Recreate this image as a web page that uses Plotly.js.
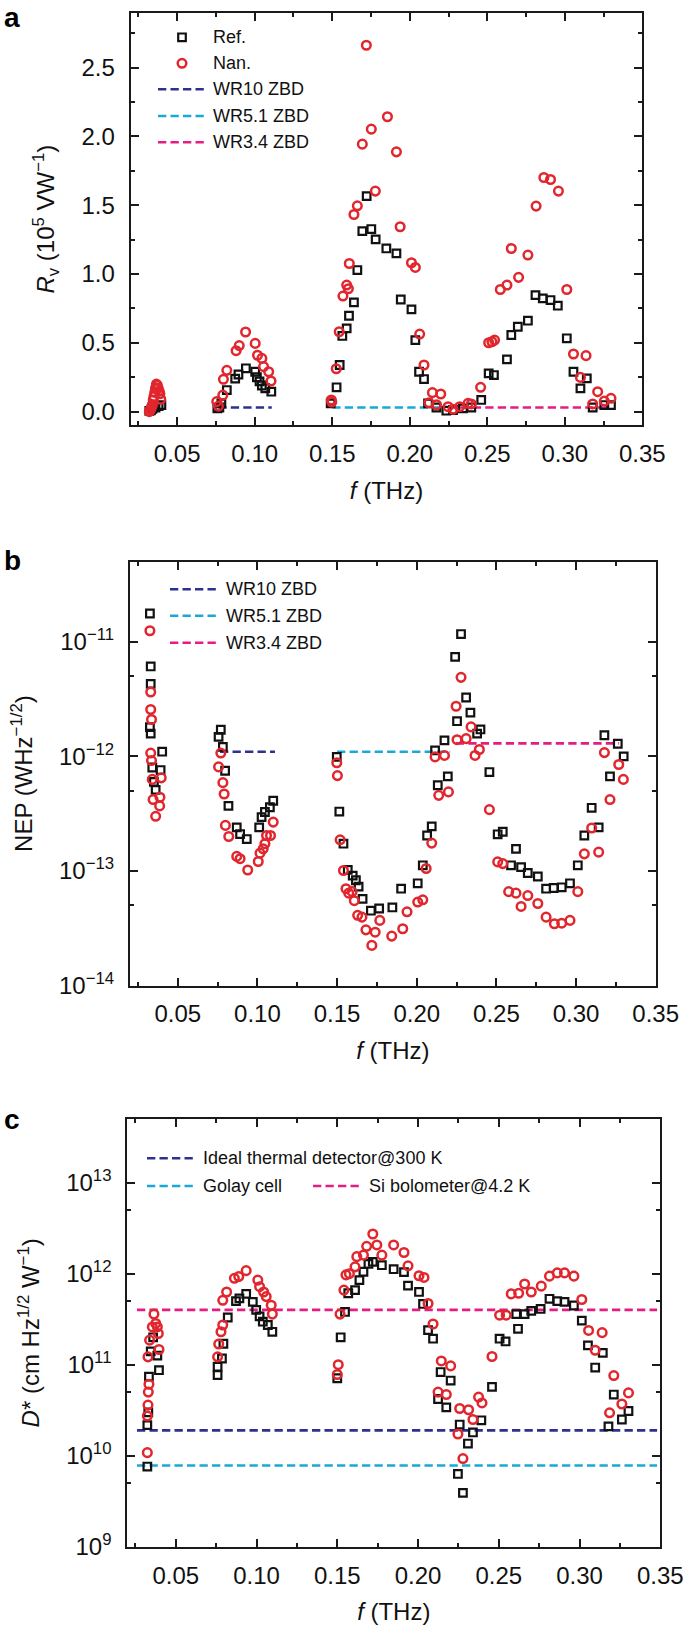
<!DOCTYPE html>
<html>
<head>
<meta charset="utf-8">
<script src="https://cdn.plot.ly/plotly-3.0.1.min.js"></script>
<style>
  body { margin: 0; background: #fff; }
  #chart { width: 685px; height: 1625px; }
</style>
</head>
<body>
<div id="chart"></div>
<script>
// panel a: responsivity Rv (10^5 V/W)
const rvFreqRef = [0.032, 0.033, 0.034, 0.036, 0.038, 0.0398,
  0.0759, 0.0772, 0.0785, 0.082, 0.0874, 0.0895, 0.0943, 0.1003, 0.1014, 0.1031, 0.1046, 0.1068, 0.1107,
  0.149, 0.1528, 0.1548, 0.1565, 0.1593, 0.1608, 0.164, 0.1662, 0.1694, 0.1722, 0.1752, 0.178, 0.1849, 0.1914, 0.1942, 0.2011, 0.2036, 0.206, 0.2092,
  0.2118, 0.2172, 0.2236, 0.2279, 0.2343, 0.2397, 0.2461, 0.2509, 0.2543, 0.2627, 0.2655, 0.2697, 0.2762, 0.2811, 0.2858, 0.2908, 0.2955, 0.3013, 0.3056, 0.3101, 0.3142, 0.318, 0.3255, 0.3298];
const rvRef = [0.005, 0.01, 0.02, 0.03, 0.04, 0.048,
  0.024, 0.03, 0.06, 0.157, 0.24, 0.27, 0.315, 0.29, 0.25, 0.22, 0.19, 0.17, 0.145,
  0.06, 0.177, 0.339, 0.55, 0.605, 0.697, 0.794, 1.029, 1.312, 1.566, 1.327, 1.252, 1.186, 1.15, 0.815, 0.743, 0.52, 0.29, 0.237,
  0.06, 0.03, 0.007, 0.012, 0.024, 0.03, 0.085, 0.278, 0.266, 0.38, 0.557, 0.617, 0.661, 0.847, 0.823, 0.811, 0.77, 0.533, 0.29, 0.169, 0.242, 0.03, 0.048, 0.048];
const rvFreqNan = [0.032, 0.0325, 0.033, 0.0335, 0.034, 0.0345, 0.035, 0.0355, 0.036, 0.0366, 0.0372, 0.0377, 0.0383, 0.0388, 0.0394,
  0.0755, 0.0766, 0.0794, 0.0798, 0.082, 0.088, 0.090, 0.0941, 0.1003, 0.1018, 0.1046, 0.1057, 0.109, 0.1105,
  0.1494, 0.1497, 0.1526, 0.1545, 0.1569, 0.1593, 0.1604, 0.161, 0.164, 0.1662, 0.1694, 0.172, 0.1752, 0.1778, 0.1856, 0.1914, 0.1938, 0.2011, 0.2036, 0.2064, 0.2092,
  0.2124, 0.2146, 0.2172, 0.22, 0.2247, 0.2279, 0.2322, 0.2376, 0.2397, 0.2457, 0.2509, 0.253, 0.2547, 0.2584, 0.2627, 0.2655, 0.2702, 0.2762, 0.2815, 0.2865, 0.2908, 0.2959, 0.3013, 0.3056, 0.3101, 0.3137, 0.318, 0.3212, 0.3255, 0.3298];
const rvNan = [0.0, 0.01, 0.02, 0.036, 0.05, 0.085, 0.11, 0.14, 0.17, 0.2, 0.19, 0.17, 0.15, 0.13, 0.09,
  0.073, 0.04, 0.12, 0.235, 0.30, 0.443, 0.48, 0.579, 0.496, 0.41, 0.387, 0.327, 0.29, 0.223,
  0.085, 0.07, 0.312, 0.581, 0.84, 0.92, 0.893, 1.077, 1.433, 1.496, 1.944, 2.663, 2.053, 1.603, 2.143, 1.888, 1.344, 1.082, 1.048, 0.564, 0.339,
  0.065, 0.138, 0.05, 0.128, 0.036, 0.017, 0.036, 0.06, 0.056, 0.177, 0.501, 0.508, 0.52, 0.888, 0.92, 1.186, 0.976, 1.138, 1.494, 1.702, 1.687, 1.603, 0.888, 0.419, 0.249, 0.407, 0.056, 0.145, 0.077, 0.097];

// panel b: NEP (W Hz^-1/2)
const nepFreqRef = [0.0325, 0.033, 0.033, 0.0325, 0.033, 0.034, 0.035, 0.0361, 0.0392, 0.0402,
  0.0756, 0.077, 0.0783, 0.0797, 0.0818, 0.087, 0.0891, 0.0933, 0.1011, 0.1026, 0.1047, 0.1078, 0.1099,
  0.1498, 0.1514, 0.154, 0.1567, 0.1598, 0.1618, 0.1635, 0.166, 0.1712, 0.1764, 0.1847, 0.1902, 0.2006, 0.2038, 0.2065, 0.2094, 0.2115, 0.2132, 0.2174, 0.2195, 0.2241, 0.2253, 0.2278, 0.231, 0.2337, 0.2379, 0.24, 0.2456,
  0.2508, 0.254, 0.2592, 0.2623, 0.2655, 0.2697, 0.276, 0.2812, 0.286, 0.291, 0.2962, 0.3011, 0.3052, 0.3098, 0.3142, 0.3178, 0.3213, 0.3262, 0.3299];
const nepRef = [1.77e-11, 6.1e-12, 4.3e-12, 1.8e-12, 1.58e-12, 8e-13, 6e-13, 5.1e-13, 7.6e-13, 1.1e-12,
  1.48e-12, 1.71e-12, 1.21e-12, 7.5e-13, 3.7e-13, 2.4e-13, 2.1e-13, 1.9e-13, 2.4e-13, 2.95e-13, 3.27e-13, 3.6e-13, 4.1e-13,
  9.9e-13, 3.3e-13, 1.73e-13, 1.02e-13, 9.1e-14, 8.3e-14, 7.3e-14, 5.7e-14, 4.5e-14, 4.7e-14, 4.8e-14, 7.0e-14, 7.8e-14, 1.12e-13, 2.04e-13, 2.45e-13, 1.13e-12, 5.6e-13, 1.38e-12, 6.7e-13, 7.4e-12, 2.03e-12, 1.17e-11, 3.27e-12, 2.41e-12, 1.58e-12, 1.72e-12, 7.3e-13,
  2.09e-13, 2.2e-13, 1.12e-13, 1.56e-13, 1.08e-13, 9.6e-14, 8.95e-14, 7.0e-14, 7.1e-14, 7.2e-14, 7.8e-14, 1.12e-13, 2.04e-13, 3.56e-13, 2.4e-13, 1.53e-12, 6.7e-13, 1.29e-12, 1.0e-12];
const nepFreqNan = [0.0325, 0.033, 0.033, 0.0335, 0.033, 0.0335, 0.034, 0.0396, 0.0345, 0.0388, 0.0386, 0.0361,
  0.0756, 0.077, 0.0783, 0.0791, 0.0799, 0.082, 0.087, 0.0891, 0.0939, 0.1005, 0.1016, 0.1036, 0.1047, 0.1057, 0.1082, 0.1099,
  0.1498, 0.1502, 0.1519, 0.154, 0.1556, 0.1573, 0.1594, 0.1608, 0.1629, 0.1656, 0.1681, 0.1718, 0.1739, 0.1768, 0.1843, 0.1912, 0.1939, 0.2006, 0.2038, 0.2059, 0.2094, 0.2115, 0.2138, 0.2174, 0.2199, 0.2247, 0.2253, 0.2278, 0.231, 0.2341, 0.2366, 0.2393, 0.2456,
  0.2508, 0.254, 0.2577, 0.2623, 0.2655, 0.2697, 0.276, 0.2812, 0.2864, 0.291, 0.2962, 0.3011, 0.3052, 0.3098, 0.3142, 0.3178, 0.3213, 0.3268, 0.3297];
const nepNan = [1.25e-11, 3.65e-12, 2.57e-12, 2.1e-12, 1.07e-12, 9.2e-13, 6.3e-13, 6.5e-13, 4.2e-13, 4.4e-13, 3.7e-13, 3.0e-13,
  8.1e-13, 1.07e-12, 5.9e-13, 4.7e-13, 2.5e-13, 2.0e-13, 1.34e-13, 1.28e-13, 1.02e-13, 1.21e-13, 1.43e-13, 1.56e-13, 1.73e-13, 2.04e-13, 2.04e-13, 2.67e-13,
  8.8e-13, 6.8e-13, 1.87e-13, 1.01e-13, 7.0e-14, 6.4e-14, 6.6e-14, 5.5e-14, 4.1e-14, 3.95e-14, 3.06e-14, 2.24e-14, 2.92e-14, 3.7e-14, 2.7e-14, 3.13e-14, 4.4e-14, 5.35e-14, 5.6e-14, 1.05e-13, 1.75e-13, 9.9e-13, 4.57e-13, 1.02e-12, 4.9e-13, 2.74e-12, 1.4e-12, 4.9e-12, 1.43e-12, 1.81e-12, 1.02e-12, 1.15e-12, 3.43e-13,
  1.2e-13, 1.16e-13, 6.6e-14, 6.4e-14, 4.9e-14, 6.1e-14, 5.2e-14, 3.95e-14, 3.46e-14, 3.5e-14, 3.7e-14, 6.6e-14, 1.41e-13, 2.37e-13, 1.46e-13, 1.08e-12, 4.2e-13, 8.5e-13, 6.3e-13];

// panel c: specific detectivity D* (cm Hz^1/2 W^-1)
const dFreqRef = [0.0324, 0.0324, 0.033, 0.0334, 0.0345, 0.036, 0.0386, 0.0396,
  0.0759, 0.0759, 0.0786, 0.0795, 0.0822, 0.0873, 0.0894, 0.0936, 0.0977, 0.0998, 0.1019, 0.1039, 0.107, 0.1098,
  0.15, 0.1521, 0.1548, 0.1568, 0.161, 0.1637, 0.1662, 0.1693, 0.172, 0.1776, 0.1849, 0.1913, 0.1938, 0.2006, 0.2031, 0.2062, 0.2093, 0.2124, 0.214, 0.2175, 0.2202, 0.2247, 0.2258, 0.2278, 0.2309, 0.234, 0.2392, 0.2458,
  0.2505, 0.2542, 0.2608, 0.2619, 0.266, 0.2701, 0.2759, 0.2814, 0.2862, 0.2907, 0.2965, 0.3014, 0.3052, 0.3097, 0.3144, 0.3179, 0.3212, 0.3262, 0.3303];
const dRef = [7.6e9, 2.17e10, 3.0e10, 7.4e10, 1.4e11, 2.0e11, 1.26e11, 8.7e10,
  7.7e10, 9.5e10, 1.17e11, 1.7e11, 3.3e11, 5.0e11, 5.35e11, 6.0e11, 4.9e11, 4.0e11, 3.4e11, 2.97e11, 2.73e11, 2.3e11,
  7.1e10, 2.0e11, 3.8e11, 6.1e11, 6.6e11, 8.5e11, 1.05e12, 1.28e12, 1.35e12, 1.24e12, 1.12e12, 1.04e12, 7.4e11, 6.3e11, 4.65e11, 2.4e11, 1.93e11, 4.2e10, 8.3e10, 3.4e10, 6.7e10, 6.3e9, 2.2e10, 3.9e9, 1.36e10, 1.8e10, 2.45e10, 5.7e10,
  1.93e11, 1.8e11, 3.6e11, 2.48e11, 3.6e11, 3.9e11, 4.1e11, 5.3e11, 5.0e11, 4.9e11, 4.47e11, 3.05e11, 1.63e11, 9.3e10, 1.35e11, 2.1e10, 4.7e10, 2.5e10, 3.1e10];
const dFreqNan = [0.0324, 0.0324, 0.0328, 0.033, 0.0334, 0.0328, 0.0338, 0.0355, 0.0365, 0.0376, 0.0386, 0.0392, 0.0396,
  0.0759, 0.0766, 0.078, 0.0791, 0.0791, 0.0815, 0.0863, 0.089, 0.0936, 0.1008, 0.1019, 0.1044, 0.106, 0.1091, 0.1098,
  0.15, 0.1506, 0.1517, 0.1541, 0.1554, 0.1575, 0.161, 0.1621, 0.1662, 0.1682, 0.172, 0.1745, 0.1776, 0.1849, 0.1913, 0.1938, 0.2006, 0.2037, 0.2062, 0.2093, 0.2124, 0.2144, 0.2175, 0.2202, 0.2247, 0.2258, 0.2278, 0.2313, 0.234, 0.2375, 0.2396, 0.2458,
  0.2505, 0.2546, 0.2577, 0.2623, 0.266, 0.2701, 0.2763, 0.2814, 0.2862, 0.2907, 0.2965, 0.3014, 0.3056, 0.3097, 0.314, 0.3186, 0.3212, 0.3262, 0.3303];
const dNan = [1.08e10, 2.73e10, 3.6e10, 5.0e10, 6.1e10, 1.22e11, 1.86e11, 2.6e11, 3.6e11, 2.84e11, 2.6e11, 2.2e11, 1.47e11,
  1.22e11, 1.69e11, 2.3e11, 2.73e11, 5.1e11, 6.3e11, 8.9e11, 9.3e11, 1.08e12, 8.5e11, 7.2e11, 6.3e11, 5.6e11, 4.5e11, 3.6e11,
  7.8e10, 1.0e11, 3.6e11, 6.6e11, 9.7e11, 1.0e12, 1.19e12, 1.54e12, 1.6e12, 2.0e12, 2.73e12, 2.07e12, 1.6e12, 2.07e12, 1.71e12, 1.22e12, 9.5e11, 9.1e11, 4.7e11, 2.8e11, 5.0e10, 1.1e11, 4.7e10, 9.7e10, 1.73e10, 3.3e10, 9.3e9, 3.2e10, 2.5e10, 4.4e10, 3.8e10, 1.23e11,
  3.5e11, 3.5e11, 6.0e11, 6.1e11, 7.7e11, 6.3e11, 7.3e11, 9.4e11, 1.02e12, 1.02e12, 9.4e11, 5.2e11, 2.38e11, 1.44e11, 2.25e11, 2.96e10, 7.6e10, 3.7e10, 4.9e10];

// commercial zero-bias detectors (panels a, b)
const zbdNames = ['WR10 ZBD', 'WR5.1 ZBD', 'WR3.4 ZBD'];
const zbdBands = [[0.0765, 0.111], [0.15, 0.221], [0.2245, 0.327]];
const zbdRv = [0.03, 0.03, 0.03];
const zbdNep = [1.1e-12, 1.1e-12, 1.3e-12];

// reference detectors (panel c)
const detNames = ['Ideal thermal detector@300 K', 'Golay cell', 'Si bolometer@4.2 K'];
const detBand = [0.026, 0.348];
const detD = [1.9e10, 7.8e9, 4.0e11];

const colRef = '#111111';
const colNan = '#e1262d';
const lineCols = ['#2d3091', '#19a9d8', '#e51c84'];
const DASH = '8.3px,4.2px';
const FONT = 'Liberation Sans, Arial, Helvetica, sans-serif';

const W = 685, H = 1625;
const px = v => v / W;
const py = v => 1 - v / H;

function scatter(x, y, xa, ya, isNan) {
  return {
    x: x, y: y, xaxis: xa, yaxis: ya, type: 'scatter', mode: 'markers',
    showlegend: false, hoverinfo: 'skip',
    marker: isNan
      ? { symbol: 'circle-open', size: 8.6, color: colNan, line: { width: 2.5, color: colNan } }
      : { symbol: 'square-open', size: 7.6, color: colRef, line: { width: 2.2, color: colRef } }
  };
}

function hline(band, v, color, xa, ya) {
  return {
    x: band, y: [v, v], xaxis: xa, yaxis: ya, type: 'scatter', mode: 'lines',
    showlegend: false, hoverinfo: 'skip',
    line: { color: color, width: 2.6, dash: DASH }
  };
}

const traces = [];
zbdNames.forEach((n, i) => {
  traces.push(hline(zbdBands[i], zbdRv[i], lineCols[i], 'x', 'y'));
  traces.push(hline(zbdBands[i], zbdNep[i], lineCols[i], 'x2', 'y2'));
});
detNames.forEach((n, i) => traces.push(hline(detBand, detD[i], lineCols[i], 'x3', 'y3')));
traces.push(scatter(rvFreqRef, rvRef, 'x', 'y', false));
traces.push(scatter(rvFreqNan, rvNan, 'x', 'y', true));
traces.push(scatter(nepFreqRef, nepRef, 'x2', 'y2', false));
traces.push(scatter(nepFreqNan, nepNan, 'x2', 'y2', true));
traces.push(scatter(dFreqRef, dRef, 'x3', 'y3', false));
traces.push(scatter(dFreqNan, dNan, 'x3', 'y3', true));

const axisBase = {
  showline: true, linecolor: '#1a1a1a', linewidth: 2, mirror: 'allticks',
  ticks: 'inside', ticklen: 8, tickwidth: 2, tickcolor: '#1a1a1a',
  showgrid: false, zeroline: false, fixedrange: true,
  tickfont: { family: FONT, size: 24, color: '#111' }
};
const minorBase = { ticks: 'inside', ticklen: 4, tickwidth: 2, tickcolor: '#1a1a1a', showgrid: false };

function xAxis(domain, anchor) {
  return Object.assign({}, axisBase, {
    domain: domain, anchor: anchor, range: [0.02, 0.35],
    tickmode: 'linear', tick0: 0, dtick: 0.05, tickformat: '.2f',
    ticklabelstandoff: 6,
    minor: Object.assign({ tick0: 0, dtick: 0.025 }, minorBase),
    title: { text: '<i>f</i> (THz)', standoff: 16, font: { family: FONT, size: 24, color: '#111' } }
  });
}

function logAxis(domain, anchor, range, exps, title) {
  return Object.assign({}, axisBase, {
    domain: domain, anchor: anchor, type: 'log', range: range,
    tickmode: 'array',
    tickvals: exps.map(e => Math.pow(10, e)),
    ticktext: exps.map(e => '10<sup>' + String(e).replace('-', '\u2212') + '</sup>'),
    ticklabelstandoff: 9,
    minor: Object.assign({ tickmode: 'array', tickvals: exps.map(e => 5 * Math.pow(10, e)) }, minorBase),
    title: { text: title, standoff: 20, font: { family: FONT, size: 24, color: '#111' } }
  });
}

const layout = {
  width: W, height: H,
  margin: { l: 0, r: 0, t: 0, b: 0 },
  paper_bgcolor: '#fff', plot_bgcolor: '#fff',
  font: { family: FONT, size: 18, color: '#111' },
  showlegend: false,
  xaxis: xAxis([130.7 / W, 642.3 / W], 'y'),
  yaxis: Object.assign({}, axisBase, {
    domain: [py(425), py(13.3)], anchor: 'x', range: [-0.097, 2.895],
    tickmode: 'linear', tick0: 0, dtick: 0.5, tickformat: '.1f',
    ticklabelstandoff: 9,
    minor: Object.assign({ tick0: 0, dtick: 0.25 }, minorBase),
    title: { text: '<i>R</i><sub>v</sub> (10<sup>5</sup> VW<sup>\u22121</sup>)', standoff: 20,
             font: { family: FONT, size: 24, color: '#111' } }
  }),
  xaxis2: xAxis([130 / W, 655.7 / W], 'y2'),
  yaxis2: logAxis([py(985.5), py(561.7)], 'x2', [-14, -10.3], [-14, -13, -12, -11],
                  'NEP (WHz<sup>\u22121/2</sup>)'),
  xaxis3: xAxis([127.3 / W, 660.3 / W], 'y3'),
  yaxis3: logAxis([py(1546.7), py(1119)], 'x3', [9, 13.7], [9, 10, 11, 12, 13],
                  '<i>D</i>* (cm Hz<sup>1/2</sup> W<sup>\u22121</sup>)'),
  shapes: [],
  annotations: []
};

// hand-placed legends, as in the figure
function legLine(x0, x1, y, color) {
  layout.shapes.push({
    type: 'line', xref: 'paper', yref: 'paper',
    x0: px(x0), x1: px(x1), y0: py(y), y1: py(y),
    line: { color: color, width: 2.6, dash: DASH }
  });
}
function legText(x, y, text) {
  layout.annotations.push({
    xref: 'paper', yref: 'paper', x: px(x), y: py(y), xanchor: 'left', yanchor: 'middle',
    showarrow: false, text: text, font: { family: FONT, size: 18, color: '#111' }
  });
}
function legMarker(x, y, isNan) {
  const r = isNan ? 4.3 : 3.8;
  layout.shapes.push({
    type: isNan ? 'circle' : 'rect', xref: 'paper', yref: 'paper',
    xsizemode: 'pixel', ysizemode: 'pixel', xanchor: px(x), yanchor: py(y),
    x0: -r, x1: r, y0: -r, y1: r,
    line: { color: isNan ? colNan : colRef, width: isNan ? 2.5 : 2.2 }
  });
}
function panelLabel(x, y, text) {
  layout.annotations.push({
    xref: 'paper', yref: 'paper', x: px(x), y: py(y), xanchor: 'left', yanchor: 'top',
    showarrow: false, text: '<b>' + text + '</b>', font: { family: FONT, size: 28, color: '#000' }
  });
}

// panel a
const rowsA = [37.3, 63.3, 89.3, 116, 142.3];
legMarker(182, rowsA[0], false); legText(211, rowsA[0], 'Ref.');
legMarker(182, rowsA[1], true); legText(211, rowsA[1], 'Nan.');
zbdNames.forEach((n, i) => { legLine(158, 205, rowsA[i + 2], lineCols[i]); legText(211, rowsA[i + 2], n); });
// panel b
const rowsB = [589.3, 615.7, 642.7];
zbdNames.forEach((n, i) => { legLine(170, 218, rowsB[i], lineCols[i]); legText(224, rowsB[i], n); });
// panel c
legLine(147, 195, 1158.3, lineCols[0]); legText(201, 1158.3, detNames[0]);
legLine(147, 195, 1186, lineCols[1]); legText(201, 1186, detNames[1]);
legLine(313, 360, 1186, lineCols[2]); legText(367, 1186, detNames[2]);

panelLabel(2, 0, 'a');
panelLabel(2, 543, 'b');
panelLabel(2, 1102, 'c');

Plotly.newPlot('chart', traces, layout, { displayModeBar: false, staticPlot: true });
</script>
</body>
</html>
